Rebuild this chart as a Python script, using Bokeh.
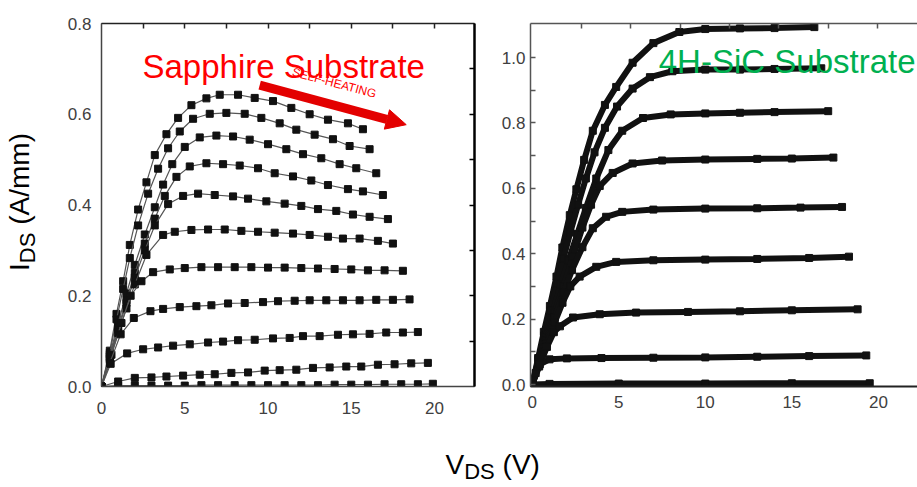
from bokeh.plotting import figure
from bokeh.models import (LinearAxis, FixedTicker, Label, Arrow, NormalHead, Range1d,
                          PrintfTickFormatter, CustomLabelingPolicy)
from bokeh.layouts import row, column
from bokeh.embed import file_html
from bokeh.resources import INLINE

# ---------------- data: sapphire substrate (left panel) ----------------
sap_v_a = [0, 0.5, 0.9, 1.3, 1.7, 2.2, 2.7, 3.2, 3.9, 4.6, 5.4, 6.3, 7.1, 8.2, 9.2, 10.3, 11.4, 12.5, 13.6, 14.8, 15.7]
sap_i_a = [0, 0.079, 0.16, 0.232, 0.312, 0.39, 0.45, 0.51, 0.556, 0.592, 0.62, 0.635, 0.643, 0.643, 0.636, 0.629, 0.614, 0.6, 0.588, 0.58, 0.567]
sap_v_b = [0, 0.5, 0.9, 1.3, 1.7, 2.2, 2.8, 3.4, 4.0, 4.7, 5.5, 6.5, 7.5, 8.6, 9.6, 10.7, 11.7, 12.8, 13.9, 14.9, 16.1]
sap_i_b = [0, 0.074, 0.148, 0.215, 0.283, 0.355, 0.425, 0.48, 0.525, 0.562, 0.59, 0.601, 0.603, 0.601, 0.592, 0.58, 0.566, 0.555, 0.545, 0.53, 0.523]
sap_v_c = [0, 0.5, 1.0, 1.5, 2.0, 2.6, 3.2, 3.7, 4.25, 5.0, 5.9, 6.9, 7.9, 8.9, 10.0, 11.1, 12.1, 13.2, 14.3, 15.3, 16.5]
sap_i_c = [0, 0.07, 0.14, 0.205, 0.268, 0.335, 0.395, 0.445, 0.49, 0.528, 0.549, 0.553, 0.551, 0.544, 0.534, 0.523, 0.512, 0.503, 0.49, 0.481, 0.47]
sap_v_d = [0, 0.5, 1.0, 1.5, 2.0, 2.6, 3.2, 3.8, 4.5, 5.3, 6.3, 7.3, 8.3, 9.4, 10.4, 11.5, 12.6, 13.6, 14.8, 15.7, 16.9]
sap_i_d = [0, 0.066, 0.13, 0.19, 0.25, 0.315, 0.37, 0.42, 0.462, 0.485, 0.492, 0.49, 0.487, 0.481, 0.47, 0.463, 0.454, 0.444, 0.435, 0.43, 0.422]
sap_v_e = [0, 0.5, 1.0, 1.5, 2.0, 2.6, 3.2, 4.0, 4.9, 5.8, 6.8, 7.9, 8.8, 9.9, 11.0, 12.0, 13.0, 14.1, 15.1, 16.1, 17.2]
sap_i_e = [0, 0.063, 0.125, 0.184, 0.24, 0.3, 0.355, 0.402, 0.42, 0.425, 0.422, 0.419, 0.414, 0.408, 0.403, 0.398, 0.391, 0.387, 0.379, 0.374, 0.369]
sap_v_f = [0, 0.5, 1.0, 1.5, 2.0, 2.7, 3.7, 4.4, 5.4, 6.4, 7.4, 8.4, 9.4, 10.4, 11.5, 12.5, 13.6, 14.5, 15.5, 16.6, 17.5]
sap_i_f = [0, 0.06, 0.118, 0.172, 0.225, 0.29, 0.334, 0.341, 0.345, 0.346, 0.346, 0.343, 0.341, 0.339, 0.337, 0.334, 0.33, 0.326, 0.326, 0.321, 0.315]
sap_v_g = [0, 0.6, 1.2, 1.75, 2.4, 3.1, 4.1, 5.0, 6.0, 7.0, 8.0, 9.0, 10.0, 11.0, 12.0, 13.0, 14.0, 15.0, 16.0, 17.0, 18.1]
sap_i_g = [0, 0.07, 0.14, 0.2, 0.232, 0.252, 0.258, 0.261, 0.263, 0.263, 0.263, 0.263, 0.262, 0.262, 0.261, 0.26, 0.259, 0.258, 0.256, 0.256, 0.255]
sap_v_h = [0, 0.5, 1.15, 1.94, 2.94, 3.7, 4.7, 5.7, 6.6, 7.6, 8.6, 9.7, 10.6, 11.6, 12.5, 13.5, 14.5, 15.5, 16.5, 17.5, 18.5]
sap_i_h = [0, 0.052, 0.115, 0.151, 0.166, 0.171, 0.175, 0.177, 0.179, 0.183, 0.184, 0.186, 0.188, 0.189, 0.19, 0.19, 0.19, 0.19, 0.191, 0.191, 0.192]
sap_v_i = [0, 0.55, 1.54, 2.5, 3.4, 4.3, 5.3, 6.4, 7.3, 8.2, 9.2, 10.3, 11.3, 12.1, 13.1, 14.2, 15.1, 16.1, 17.1, 18.1, 19.0]
sap_i_i = [0, 0.05, 0.073, 0.082, 0.086, 0.09, 0.093, 0.097, 0.099, 0.102, 0.103, 0.106, 0.107, 0.111, 0.111, 0.114, 0.115, 0.116, 0.119, 0.119, 0.12]
sap_v_j = [0, 1.0, 2.0, 3.0, 3.9, 4.9, 5.9, 6.8, 7.8, 8.8, 9.8, 10.7, 11.7, 12.7, 13.7, 14.7, 15.6, 16.6, 17.6, 18.6, 19.6]
sap_i_j = [0, 0.011, 0.019, 0.02, 0.022, 0.024, 0.026, 0.027, 0.03, 0.031, 0.035, 0.036, 0.037, 0.041, 0.042, 0.044, 0.044, 0.048, 0.049, 0.051, 0.052]
sap_v_k = [0, 1, 2, 3, 4, 5, 6, 7, 8, 9, 10, 11, 12, 13, 14, 15, 16, 17, 18, 19, 19.9]
sap_i_k = [0, 0.002, 0.002, 0.002, 0.002, 0.002, 0.003, 0.003, 0.003, 0.003, 0.003, 0.003, 0.003, 0.003, 0.004, 0.004, 0.004, 0.005, 0.005, 0.005, 0.006]

# ---------------- data: 4H-SiC substrate (right panel) ----------------
sic_v_1 = [0, 0.34, 0.67, 1.02, 1.4, 1.74, 2.17, 2.55, 3.0, 3.5, 4.2, 4.85, 5.8, 7.0, 8.5, 10, 12, 14, 16.3]
sic_i_1 = [0, 0.081, 0.161, 0.24, 0.33, 0.419, 0.518, 0.597, 0.687, 0.776, 0.855, 0.91, 0.984, 1.044, 1.078, 1.087, 1.089, 1.09, 1.093]
sic_v_2 = [0, 0.35, 0.7, 1.05, 1.45, 1.8, 2.2, 2.65, 3.1, 3.6, 4.2, 4.9, 5.8, 6.8, 8.1, 10, 12, 14, 16.7]
sic_i_2 = [0, 0.075, 0.15, 0.225, 0.31, 0.385, 0.465, 0.55, 0.63, 0.71, 0.785, 0.85, 0.905, 0.94, 0.958, 0.963, 0.963, 0.965, 0.967]
sic_v_3 = [0, 0.4, 0.8, 1.2, 1.65, 2.1, 2.6, 3.1, 3.7, 4.4, 5.2, 6.4, 8.0, 10, 12, 14, 17.1]
sic_i_3 = [0, 0.075, 0.15, 0.225, 0.305, 0.38, 0.46, 0.54, 0.63, 0.717, 0.776, 0.815, 0.826, 0.829, 0.831, 0.833, 0.836]
sic_v_4 = [0, 0.4, 0.85, 1.3, 1.8, 2.35, 2.9, 3.4, 3.9, 4.65, 5.8, 7.5, 10, 13, 15, 17.4]
sic_i_4 = [0, 0.07, 0.145, 0.22, 0.3, 0.39, 0.48, 0.55, 0.607, 0.647, 0.676, 0.685, 0.688, 0.69, 0.691, 0.694]
sic_v_5 = [0, 0.4, 0.85, 1.3, 1.8, 2.3, 2.9, 3.5, 4.27, 5.2, 7.0, 10, 13, 15.5, 17.9]
sic_i_5 = [0, 0.065, 0.135, 0.205, 0.28, 0.35, 0.42, 0.478, 0.513, 0.528, 0.535, 0.538, 0.539, 0.541, 0.543]
sic_v_6 = [0, 0.4, 0.85, 1.3, 1.75, 2.2, 2.74, 3.7, 4.85, 7.0, 10, 13, 16, 18.3]
sic_i_6 = [0, 0.06, 0.125, 0.19, 0.25, 0.3, 0.33, 0.36, 0.375, 0.38, 0.382, 0.384, 0.387, 0.391]
sic_v_7 = [0, 0.4, 0.85, 1.25, 1.6, 2.36, 3.9, 6.0, 9.0, 12.0, 15.0, 18.8]
sic_i_7 = [0, 0.055, 0.115, 0.16, 0.178, 0.205, 0.215, 0.22, 0.222, 0.224, 0.227, 0.23]
sic_v_8 = [0, 0.2, 0.44, 1.0, 2.0, 4.0, 7.0, 10.0, 13.0, 16.0, 19.3]
sic_i_8 = [0, 0.035, 0.062, 0.077, 0.08, 0.081, 0.082, 0.083, 0.085, 0.087, 0.089]
sic_v_9 = [0, 1, 5, 10, 15, 19.5]
sic_i_9 = [0, 0.002, 0.003, 0.003, 0.004, 0.004]

# ---------------- ticks / texts ----------------
sap_xticks = [0, 5, 10, 15, 20]
sap_yticks = [0.0, 0.2, 0.4, 0.6, 0.8]
sap_top_ticks = [2.5, 5, 7.5, 10, 12.5, 15, 17.5, 20]
sap_right_ticks = [0.1, 0.2, 0.3, 0.4, 0.5, 0.6, 0.7]
sic_xticks = [0, 5, 10, 15, 20]
sic_yticks = [0.0, 0.2, 0.4, 0.6, 0.8, 1.0]
sic_yminor = [0.1, 0.3, 0.5, 0.7, 0.9]
sic_top_ticks = [2.85, 5.7, 8.55, 11.4, 14.25, 17.1, 19.95]

title_left = "Sapphire Substrate"
title_right = "4H-SiC Substrate"
arrow_text = "SELF-HEATING"
y_title_main = "I"
y_title_sub = "DS"
y_title_unit = "(A/mm)"
x_title_main = "V"
x_title_sub = "DS"
x_title_unit = "(V)"

FONT = "Liberation Sans"
TICKC = "#404040"
RED = "#ff0000"
ARROW_RED = "#e30000"
GREEN = "#00b050"

H_TOP = 432      # height of the row holding the two panels
H_BOT = 55       # height of the strip holding the x title


def style_axis(ax, standoff):
    ax.major_label_text_font = FONT
    ax.major_label_text_font_size = "17px"
    ax.major_label_text_color = TICKC
    ax.major_label_standoff = standoff


def tick_only_axis(ticker, color, width):
    return LinearAxis(ticker=ticker, major_tick_in=5, major_tick_out=0,
                      minor_tick_in=5, minor_tick_out=0,
                      major_label_policy=CustomLabelingPolicy(code="return []"),
                      major_label_text_font_size="1px", major_label_standoff=0,
                      axis_line_color=color, axis_line_width=width,
                      major_tick_line_color=color, minor_tick_line_color=color,
                      major_tick_line_width=1.5, minor_tick_line_width=1.5)


def blank_fig(w, h):
    f = figure(width=w, height=h, x_range=Range1d(0, 1), y_range=Range1d(0, 1),
               output_backend="svg", toolbar_location=None,
               x_axis_location=None, y_axis_location=None,
               min_border=0, min_border_left=0, min_border_right=0,
               min_border_top=0, min_border_bottom=0)
    f.grid.visible = False
    f.outline_line_color = None
    f.background_fill_color = "white"
    f.border_fill_color = "white"
    return f


def txt(x, y, text, size, angle=0):
    return Label(x=x, y=y, x_units="screen", y_units="screen", text=text, angle=angle,
                 angle_units="deg", text_font=FONT, text_font_size=size, text_color="black",
                 text_baseline="alphabetic", text_align="left")


# ================= y-title strip =================
py = blank_fig(53, H_TOP)
py.add_layout(txt(19, 115.5, y_title_main, "28px", 90))
py.add_layout(txt(27, 123.3, y_title_sub, "22px", 90))
py.add_layout(txt(19, 161.7, y_title_unit, "28px", 90))

# ================= left panel =================
p1 = figure(width=445, height=H_TOP, x_range=Range1d(0, 22.4), y_range=Range1d(0, 0.8),
            output_backend="svg", toolbar_location=None,
            min_border_left=48, min_border_right=24, min_border_top=20, min_border_bottom=46)
p1.grid.visible = False
p1.outline_line_color = "#444444"
p1.background_fill_color = "white"
p1.border_fill_color = "white"

p1.xaxis.ticker = FixedTicker(ticks=sap_xticks)
p1.yaxis.ticker = FixedTicker(ticks=sap_yticks)
p1.yaxis.formatter = PrintfTickFormatter(format="%.1f")
for ax in (p1.xaxis[0], p1.yaxis[0]):
    ax.major_tick_in = 0
    ax.major_tick_out = 0
    ax.minor_tick_in = 0
    ax.minor_tick_out = 0
    ax.axis_line_color = "#444444"
    ax.axis_line_width = 1.5
style_axis(p1.xaxis[0], 15)
style_axis(p1.yaxis[0], 10)

p1.add_layout(tick_only_axis(FixedTicker(ticks=sap_top_ticks), "#222222", 1.5), "above")
p1.add_layout(tick_only_axis(FixedTicker(ticks=sap_right_ticks), "#000000", 2.5), "right")

sap_curves = [(sap_v_a, sap_i_a), (sap_v_b, sap_i_b), (sap_v_c, sap_i_c), (sap_v_d, sap_i_d),
              (sap_v_e, sap_i_e), (sap_v_f, sap_i_f), (sap_v_g, sap_i_g), (sap_v_h, sap_i_h),
              (sap_v_i, sap_i_i), (sap_v_j, sap_i_j), (sap_v_k, sap_i_k)]
for v, i in sap_curves:
    p1.line(v, i, line_color="#555555", line_width=1.2)
    p1.scatter(v, i, marker="square", size=7, fill_color="#111111", line_color="#111111")

p1.add_layout(Label(x=2.46, y=0.706, text=title_left, text_font=FONT, text_font_size="33px",
                    text_color=RED, text_baseline="alphabetic", text_align="left"))
p1.add_layout(Arrow(x_start=9.5, y_start=0.664, x_end=18.3, y_end=0.577,
                    line_color=ARROW_RED, line_width=9,
                    end=NormalHead(size=20, fill_color=ARROW_RED, line_color=ARROW_RED)))
p1.add_layout(Label(x=13.98, y=0.669, text=arrow_text, text_font=FONT, text_font_size="12px",
                    text_color=RED, angle=-15, angle_units="deg",
                    text_align="center", text_baseline="middle"))

# ================= right panel =================
p2 = figure(width=419, height=H_TOP, x_range=Range1d(-0.1, 22.26), y_range=Range1d(-0.006, 1.104),
            output_backend="svg", toolbar_location=None,
            min_border_left=30, min_border_right=0, min_border_top=23, min_border_bottom=36)
p2.grid.visible = False
p2.outline_line_color = None
p2.background_fill_color = "white"
p2.border_fill_color = "white"

p2.xaxis.ticker = FixedTicker(ticks=sic_xticks)
p2.yaxis.ticker = FixedTicker(ticks=sic_yticks, minor_ticks=sic_yminor)
p2.yaxis.formatter = PrintfTickFormatter(format="%.1f")
xa = p2.xaxis[0]
xa.major_tick_in = 0
xa.major_tick_out = 0
xa.minor_tick_in = 0
xa.minor_tick_out = 0
xa.axis_line_color = "#222222"
xa.axis_line_width = 2
ya = p2.yaxis[0]
ya.major_tick_in = 5
ya.major_tick_out = 0
ya.minor_tick_in = 5
ya.minor_tick_out = 0
ya.axis_line_color = "#555555"
ya.axis_line_width = 1.5
ya.major_tick_line_color = "#555555"
ya.minor_tick_line_color = "#555555"
ya.major_tick_line_width = 1.5
ya.minor_tick_line_width = 1.5
style_axis(xa, 9)
style_axis(ya, 5)
p2.add_layout(tick_only_axis(FixedTicker(ticks=sic_top_ticks), "#555555", 1.5), "above")

sic_curves = [(sic_v_1, sic_i_1), (sic_v_2, sic_i_2), (sic_v_3, sic_i_3), (sic_v_4, sic_i_4),
              (sic_v_5, sic_i_5), (sic_v_6, sic_i_6), (sic_v_7, sic_i_7), (sic_v_8, sic_i_8),
              (sic_v_9, sic_i_9)]
for v, i in sic_curves:
    p2.line(v, i, line_color="#111111", line_width=6)
    p2.scatter(v, i, marker="square", size=7, fill_color="#111111", line_color="#111111")

p2.add_layout(Label(x=7.31, y=0.988, text=title_right, text_font=FONT, text_font_size="33px",
                    text_color=GREEN, text_baseline="alphabetic", text_align="left"))

# ================= x-title strip =================
px = blank_fig(917, H_BOT)
px.add_layout(txt(445, 23, x_title_main, "28px"))
px.add_layout(txt(463.7, 16, x_title_sub, "22px"))
px.add_layout(txt(502.1, 23, x_title_unit, "28px"))

layout = column(row(py, p1, p2), px)
open("out.html", "w").write(file_html(layout, INLINE))
